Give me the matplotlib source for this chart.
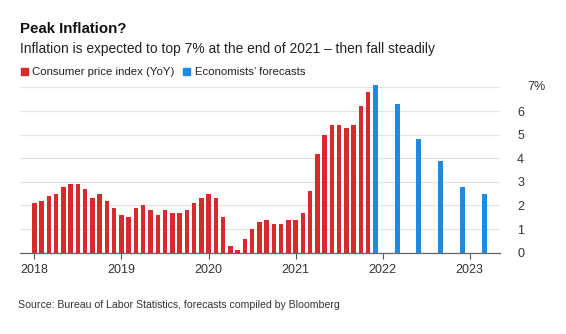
import pandas as pd
import matplotlib.pyplot as plt
from matplotlib.patches import Rectangle
from matplotlib.transforms import blended_transform_factory

plt.rcParams['font.family'] = ['Liberation Sans', 'DejaVu Sans']

# CPI year-over-year, Jan 2018 - Nov 2021
cpi_start = '2018-01'
cpi_end = '2021-11'
cpi_values = [2.1, 2.2, 2.4, 2.5, 2.8, 2.9, 2.9, 2.7, 2.3, 2.5, 2.2, 1.9,
              1.6, 1.5, 1.9, 2.0, 1.8, 1.6, 1.8, 1.7, 1.7, 1.8, 2.1, 2.3,
              2.5, 2.3, 1.5, 0.3, 0.1, 0.6, 1.0, 1.3, 1.4, 1.2, 1.2, 1.4,
              1.4, 1.7, 2.6, 4.2, 5.0, 5.4, 5.4, 5.3, 5.4, 6.2, 6.8]

# economists' forecasts
forecast_dates = ['2021-12', '2022-03', '2022-06', '2022-09', '2022-12', '2023-03']
forecast_values = [7.1, 6.3, 4.8, 3.9, 2.8, 2.5]

year_labels = ['2018', '2019', '2020', '2021', '2022', '2023']
y_ticks = [0, 1, 2, 3, 4, 5, 6, 7]

RED = '#d62a2c'
BLUE = '#1f8be0'

base = pd.Period(cpi_start, freq='M')
cpi_x = [(p - base).n for p in pd.period_range(cpi_start, cpi_end, freq='M')]
fc_x = [(pd.Period(d, freq='M') - base).n for d in forecast_dates]
year_x = [(pd.Period(y + '-01', freq='M') - base).n for y in year_labels]

fig = plt.figure(figsize=(5.66, 3.34), dpi=100)
ax = fig.add_axes([0.0353, 0.2434, 0.8481, 0.5159])

ax.bar(cpi_x, cpi_values, width=0.62, color=RED, zorder=3)
ax.bar(fc_x, forecast_values, width=0.7, color=BLUE, zorder=3)

ax.set_xlim(-2, 64.2)
ax.set_ylim(0, 7.3)

# right-hand scale; the top label carries the % sign and sits a bit further out
ax.yaxis.tick_right()
ax.set_yticks(y_ticks)
ax.set_yticklabels([str(v) if v != 7 else '' for v in y_ticks])
ax.tick_params(axis='y', length=0, pad=12.3, labelsize=9, labelcolor='#333333')
trans = blended_transform_factory(fig.transFigure, ax.transData)
ax.text(527 / 566, y_ticks[-1], f'{y_ticks[-1]}%', transform=trans,
        fontsize=9, color='#333333', va='center', ha='left')
ax.grid(axis='y', color='#e3e3e3', linewidth=0.9, zorder=0)

ax.set_xticks(year_x)
ax.set_xticklabels(year_labels)
ax.tick_params(axis='x', length=4, width=0.8, color='#555555', labelsize=9,
               labelcolor='#333333', pad=4)

for s in ['top', 'left', 'right']:
    ax.spines[s].set_visible(False)
ax.spines['bottom'].set_color('#666666')
ax.spines['bottom'].set_linewidth(0.9)
ax.spines['bottom'].set_zorder(4)

# titles
fig.text(20 / 566, 1 - 33.3 / 334, 'Peak Inflation?', fontsize=10.8,
         fontweight='bold', color='#111111', va='baseline')
fig.text(20 / 566, 1 - 53.5 / 334,
         'Inflation is expected to top 7% at the end of 2021 – then fall steadily',
         fontsize=9.9, color='#222222', va='baseline')

# legend
for x0, color, x_text, label in [(20.7, RED, 32, 'Consumer price index (YoY)'),
                                  (183, BLUE, 195, 'Economists’ forecasts')]:
    fig.patches.append(Rectangle((x0 / 566, 1 - 75 / 334), 7 / 566, 7 / 334,
                                 transform=fig.transFigure, color=color))
    fig.text(x_text / 566, 1 - 74.7 / 334, label, fontsize=8.2,
             color='#222222', va='baseline')

fig.text(18 / 566, 1 - 308 / 334,
         'Source: Bureau of Labor Statistics, forecasts compiled by Bloomberg',
         fontsize=7.6, color='#333333', va='baseline')

fig.savefig('out.png', dpi=100, facecolor='white')
